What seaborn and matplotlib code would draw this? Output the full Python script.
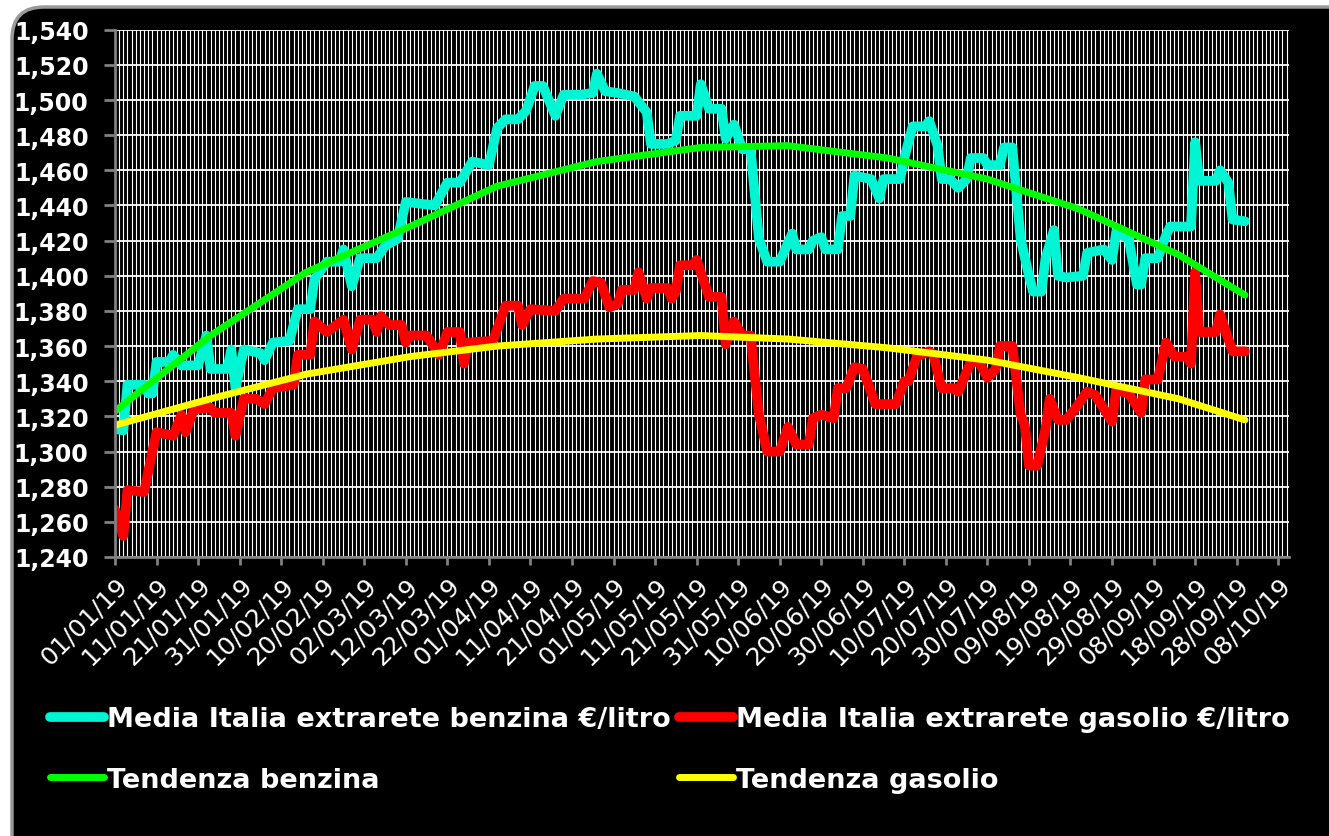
import pandas as pd
import matplotlib
matplotlib.use('Agg')
import matplotlib.pyplot as plt
import matplotlib.dates as mdates
from matplotlib.patches import FancyBboxPatch
from matplotlib.ticker import FuncFormatter, MultipleLocator, FixedLocator
import seaborn as sns

sns.set_style('dark')
plt.rcParams['font.family'] = ['DejaVu Sans']

# prezzi medi benzina (€/litro)
benz_date = ['2019-01-01', '2019-01-03', '2019-01-04', '2019-01-08', '2019-01-09', '2019-01-10', '2019-01-11', '2019-01-14', '2019-01-15', '2019-01-17', '2019-01-21', '2019-01-23', '2019-01-24', '2019-01-28', '2019-01-29', '2019-01-30',
             '2019-02-01', '2019-02-05', '2019-02-06', '2019-02-08', '2019-02-12', '2019-02-14', '2019-02-17', '2019-02-18', '2019-02-21', '2019-02-24', '2019-02-25', '2019-02-27',
             '2019-03-01', '2019-03-05', '2019-03-07', '2019-03-10', '2019-03-12', '2019-03-19', '2019-03-22', '2019-03-25', '2019-03-28',
             '2019-04-01', '2019-04-03', '2019-04-05', '2019-04-08', '2019-04-10', '2019-04-12', '2019-04-14', '2019-04-17', '2019-04-19', '2019-04-23', '2019-04-26', '2019-04-27', '2019-04-29',
             '2019-05-02', '2019-05-06', '2019-05-09', '2019-05-10', '2019-05-14', '2019-05-16', '2019-05-17', '2019-05-21', '2019-05-22', '2019-05-24', '2019-05-27', '2019-05-28', '2019-05-30',
             '2019-06-01', '2019-06-03', '2019-06-05', '2019-06-07', '2019-06-10', '2019-06-13', '2019-06-14', '2019-06-17', '2019-06-18', '2019-06-20', '2019-06-21', '2019-06-24', '2019-06-25', '2019-06-27', '2019-06-28',
             '2019-07-02', '2019-07-04', '2019-07-05', '2019-07-09', '2019-07-10', '2019-07-12', '2019-07-15', '2019-07-16', '2019-07-18', '2019-07-19', '2019-07-21', '2019-07-23', '2019-07-25', '2019-07-26', '2019-07-29', '2019-07-30',
             '2019-08-02', '2019-08-03', '2019-08-05', '2019-08-07', '2019-08-09', '2019-08-10', '2019-08-12', '2019-08-13', '2019-08-15', '2019-08-16', '2019-08-18', '2019-08-22', '2019-08-23', '2019-08-27', '2019-08-29', '2019-08-30',
             '2019-09-02', '2019-09-04', '2019-09-05', '2019-09-06', '2019-09-09', '2019-09-11', '2019-09-12', '2019-09-17', '2019-09-18', '2019-09-19', '2019-09-23', '2019-09-24', '2019-09-26', '2019-09-27', '2019-09-30']
benz_val = [1.313, 1.312, 1.338, 1.338, 1.333, 1.333, 1.351, 1.351, 1.355, 1.349, 1.349, 1.366, 1.347, 1.347, 1.358, 1.336,
            1.358, 1.356, 1.352, 1.362, 1.363, 1.381, 1.381, 1.398, 1.408, 1.408, 1.415, 1.394,
            1.410, 1.410, 1.417, 1.421, 1.442, 1.440, 1.453, 1.453, 1.465,
            1.463, 1.484, 1.489, 1.489, 1.494, 1.508, 1.508, 1.491, 1.503, 1.503, 1.504, 1.515, 1.505,
            1.504, 1.502, 1.493, 1.475, 1.475, 1.477, 1.491, 1.491, 1.509, 1.495, 1.495, 1.478, 1.486,
            1.472, 1.472, 1.421, 1.408, 1.408, 1.424, 1.415, 1.415, 1.420, 1.422, 1.415, 1.415, 1.434, 1.434, 1.457,
            1.455, 1.444, 1.455, 1.455, 1.467, 1.485, 1.485, 1.488, 1.474, 1.455, 1.455, 1.450, 1.455, 1.467, 1.467, 1.463,
            1.463, 1.473, 1.473, 1.421, 1.400, 1.391, 1.391, 1.410, 1.426, 1.400, 1.399, 1.400, 1.413, 1.415, 1.409, 1.425,
            1.421, 1.395, 1.395, 1.410, 1.410, 1.423, 1.428, 1.428, 1.476, 1.454, 1.454, 1.460, 1.453, 1.432, 1.431]

# prezzi medi gasolio (€/litro)
gas_date = ['2019-01-01', '2019-01-03', '2019-01-04', '2019-01-08', '2019-01-10', '2019-01-11', '2019-01-15', '2019-01-17', '2019-01-18', '2019-01-20', '2019-01-24', '2019-01-25', '2019-01-29', '2019-01-30',
            '2019-02-01', '2019-02-04', '2019-02-06', '2019-02-08', '2019-02-13', '2019-02-14', '2019-02-17', '2019-02-18', '2019-02-21', '2019-02-25', '2019-02-27',
            '2019-03-01', '2019-03-04', '2019-03-05', '2019-03-06', '2019-03-08', '2019-03-11', '2019-03-12', '2019-03-13', '2019-03-17', '2019-03-20', '2019-03-22', '2019-03-25', '2019-03-26', '2019-03-27',
            '2019-04-02', '2019-04-05', '2019-04-08', '2019-04-09', '2019-04-11', '2019-04-17', '2019-04-19', '2019-04-24', '2019-04-26', '2019-04-28', '2019-04-30',
            '2019-05-02', '2019-05-03', '2019-05-06', '2019-05-07', '2019-05-09', '2019-05-10', '2019-05-14', '2019-05-15', '2019-05-16', '2019-05-17', '2019-05-20', '2019-05-21', '2019-05-24', '2019-05-27', '2019-05-28', '2019-05-30',
            '2019-06-01', '2019-06-03', '2019-06-05', '2019-06-07', '2019-06-10', '2019-06-12', '2019-06-14', '2019-06-17', '2019-06-18', '2019-06-20', '2019-06-23', '2019-06-24', '2019-06-26', '2019-06-28', '2019-06-30',
            '2019-07-03', '2019-07-08', '2019-07-10', '2019-07-11', '2019-07-13', '2019-07-16', '2019-07-17', '2019-07-19', '2019-07-22', '2019-07-23', '2019-07-26', '2019-07-28', '2019-07-30',
            '2019-08-01', '2019-08-02', '2019-08-05', '2019-08-07', '2019-08-08', '2019-08-09', '2019-08-11', '2019-08-13', '2019-08-14', '2019-08-16', '2019-08-18', '2019-08-20', '2019-08-23', '2019-08-25', '2019-08-29', '2019-08-30',
            '2019-09-02', '2019-09-05', '2019-09-06', '2019-09-09', '2019-09-11', '2019-09-13', '2019-09-16', '2019-09-17', '2019-09-18', '2019-09-19', '2019-09-23', '2019-09-24', '2019-09-27', '2019-09-30']
gas_val = [1.267, 1.252, 1.278, 1.277, 1.300, 1.311, 1.309, 1.321, 1.311, 1.324, 1.325, 1.322, 1.322, 1.309,
           1.330, 1.330, 1.327, 1.336, 1.338, 1.355, 1.355, 1.374, 1.368, 1.375, 1.358,
           1.375, 1.375, 1.368, 1.377, 1.372, 1.372, 1.362, 1.366, 1.366, 1.355, 1.368, 1.368, 1.350, 1.362,
           1.363, 1.383, 1.383, 1.372, 1.381, 1.380, 1.387, 1.387, 1.397, 1.396, 1.382,
           1.384, 1.392, 1.392, 1.402, 1.387, 1.393, 1.393, 1.387, 1.391, 1.406, 1.406, 1.409, 1.388, 1.388, 1.361, 1.374,
           1.366, 1.366, 1.321, 1.300, 1.300, 1.314, 1.304, 1.304, 1.319, 1.321, 1.319, 1.336, 1.336, 1.348, 1.347,
           1.327, 1.327, 1.340, 1.340, 1.354, 1.357, 1.355, 1.336, 1.336, 1.334, 1.351, 1.351, 1.342,
           1.347, 1.360, 1.360, 1.321, 1.315, 1.292, 1.292, 1.313, 1.330, 1.318, 1.318, 1.324, 1.334, 1.332, 1.317, 1.335,
           1.333, 1.322, 1.341, 1.341, 1.362, 1.354, 1.354, 1.350, 1.402, 1.368, 1.368, 1.378, 1.357, 1.357]

# linee di tendenza
trend_date = ['2019-01-01', '2019-01-24', '2019-02-16', '2019-03-13', '2019-04-03', '2019-04-27', '2019-05-22',
              '2019-06-12', '2019-07-06', '2019-07-30', '2019-08-21', '2019-09-14', '2019-09-30']
trend_benz = [1.323, 1.366, 1.402, 1.428, 1.451, 1.465, 1.473, 1.474, 1.467, 1.455, 1.438, 1.412, 1.389]
trend_gas = [1.315, 1.330, 1.344, 1.354, 1.360, 1.364, 1.366, 1.364, 1.359, 1.352, 1.342, 1.330, 1.318]

labels = ['Media Italia extrarete benzina €/litro', 'Media Italia extrarete gasolio €/litro',
          'Tendenza benzina', 'Tendenza gasolio']
colors = ['#00F5D2', '#FF0000', '#00FF00', '#FFFF00']

W, H = 1329, 837
fig = plt.figure(figsize=(W / 100, H / 100), dpi=100)
fig.patch.set_facecolor('white')
bg = FancyBboxPatch((12, -40), 1400, 829 + 40, boxstyle='round,pad=0,rounding_size=32',
                    transform=None, facecolor='black', edgecolor='#9a9a9a', linewidth=2.5, zorder=-10)
fig.add_artist(bg)

ax = fig.add_axes([115 / W, 1 - 558 / H, (1289 - 115) / W, (558 - 30.7) / H])
ax.set_facecolor('black')
ax.set_axisbelow(True)

lkw = dict(solid_joinstyle='round', solid_capstyle='round')
sns.lineplot(x=pd.to_datetime(benz_date), y=benz_val, ax=ax, color=colors[0], lw=7, label=labels[0], **lkw)
sns.lineplot(x=pd.to_datetime(gas_date), y=gas_val, ax=ax, color=colors[1], lw=7, label=labels[1], **lkw)
sns.lineplot(x=pd.to_datetime(trend_date), y=trend_benz, ax=ax, color=colors[2], lw=5, label=labels[2], **lkw)
sns.lineplot(x=pd.to_datetime(trend_date), y=trend_gas, ax=ax, color=colors[3], lw=5, label=labels[3], **lkw)

start = pd.Timestamp('2019-01-01')
ax.set_xlim(start, start + pd.Timedelta(days=282.6))
ax.set_ylim(1.24, 1.54)
ax.set_xlabel('')
ax.set_ylabel('')

tick_dates = pd.date_range('2019-01-01', '2019-10-08', freq='10D')
ax.xaxis.set_major_locator(FixedLocator(mdates.date2num(tick_dates)))
ax.xaxis.set_minor_locator(mdates.DayLocator())
ax.xaxis.set_major_formatter(mdates.DateFormatter('%d/%m/%y'))
ax.yaxis.set_major_locator(MultipleLocator(0.02))
ax.yaxis.set_major_formatter(FuncFormatter(lambda v, p: f'{v:.3f}'.replace('.', ',')))

ax.grid(True, which='both', axis='x', color='white', lw=0.8)
ax.grid(True, which='major', axis='y', color='white', lw=1.3)

for s in ['top', 'right']:
    ax.spines[s].set_visible(False)
for s in ['left', 'bottom']:
    ax.spines[s].set_visible(True)
    ax.spines[s].set_color('#808080')
    ax.spines[s].set_linewidth(2)

ax.tick_params(axis='x', which='minor', length=0, bottom=False)
ax.tick_params(axis='x', which='major', bottom=True, length=6, width=2, color='#808080',
               labelcolor='white', labelsize=18, pad=5)
ax.tick_params(axis='y', left=True, length=8, width=2, color='#808080',
               labelcolor='white', labelsize=17, pad=11)
for lbl in ax.get_yticklabels():
    lbl.set_fontweight('bold')
plt.setp(ax.get_xticklabels(), rotation=45, ha='right', rotation_mode='anchor')

h, l = ax.get_legend_handles_labels()
ax.get_legend().remove()
fig.legend([h[0], h[2], h[1], h[3]], [l[0], l[2], l[1], l[3]], ncol=2, loc='upper left',
           bbox_to_anchor=(50 / W, 1 - 707 / H), frameon=False,
           prop={'weight': 'bold', 'size': 19.5}, labelcolor='white',
           handlelength=2.0, handletextpad=0.1, columnspacing=0.3, labelspacing=1.28,
           borderpad=0, borderaxespad=0)

fig.savefig('out.png', dpi=100, facecolor=fig.get_facecolor())
